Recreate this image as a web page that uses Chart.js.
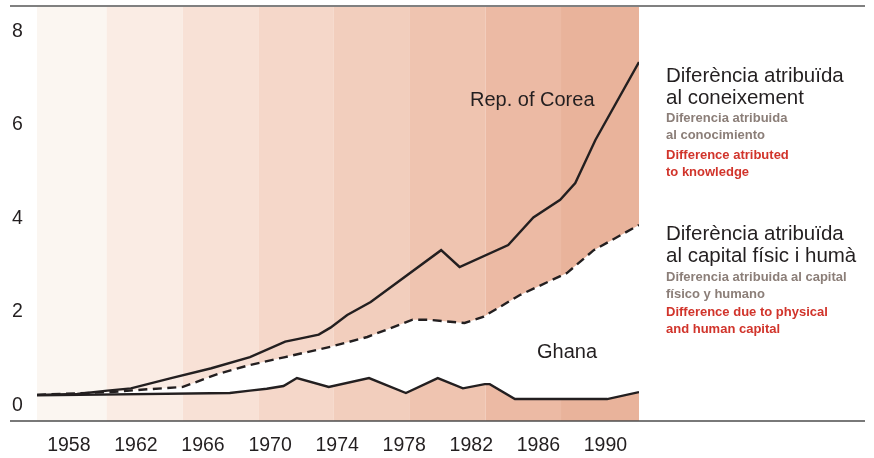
<!DOCTYPE html>
<html>
<head>
<meta charset="utf-8">
<script src="https://cdn.jsdelivr.net/npm/chart.js@4"></script>
<style>
  body { margin:0; background:#fff; font-family:"Liberation Sans", Arial, sans-serif; color:#231f20; }
  #wrap { position:relative; width:874px; height:458px; }
  .lbl { position:absolute; white-space:nowrap; }
  .big { font-size:20.5px; line-height:21.5px; color:#231f20; }
  .es  { font-size:13px; line-height:16.5px; font-weight:bold; color:#8b7e78; }
  .en  { font-size:13px; line-height:16.5px; font-weight:bold; color:#d1342b; }
  .ser { font-size:20px; line-height:22px; color:#231f20; }
</style>
</head>
<body>
<div id="wrap">
  <canvas id="c"></canvas>

  <div class="lbl ser" style="left:470px;top:88px">Rep. of Corea</div>
  <div class="lbl ser" style="left:537px;top:340px">Ghana</div>

  <div class="lbl big" style="left:666px;top:64px">Diferència atribuïda<br>al coneixement</div>
  <div class="lbl es"  style="left:666px;top:110px">Diferencia atribuida<br>al conocimiento</div>
  <div class="lbl en"  style="left:666px;top:147px">Difference atributed<br>to knowledge</div>

  <div class="lbl big" style="left:666px;top:222px">Diferència atribuïda<br>al capital físic i humà</div>
  <div class="lbl es"  style="left:666px;top:269px">Diferencia atribuida al capital<br>físico y humano</div>
  <div class="lbl en"  style="left:666px;top:304px">Difference due to physical<br>and human capital</div>
</div>

<script>
// ── Data ──────────────────────────────────────────────────────────────────
const xTicks = [1958,1962,1966,1970,1974,1978,1982,1986,1990];
const yTicks = [0,2,4,6,8];

const bandEdges  = [1956.1,1960.25,1964.8,1969.3,1973.8,1978.3,1982.85,1987.35,1992];
const bandColors = ['#fbf6f1','#faece4','#f8e1d6','#f5d7c9','#f2cebd','#efc4b0','#ecbaa4','#e9b39b'];

const koreaYears = [1956.1,1958.5,1960.3,1961.7,1964.1,1966.5,1968.8,1970.9,1971.7,1972.9,1973.6,1974.6,1976.0,1980.2,1981.3,1984.2,1985.7,1987.3,1988.2,1989.4,1992];
const koreaVals  = [0.22,0.24,0.31,0.36,0.58,0.79,1.03,1.36,1.42,1.51,1.66,1.93,2.21,3.32,2.96,3.43,4.02,4.40,4.76,5.68,7.35];

const capYears = [1956.1,1960.5,1962.3,1964.8,1966.9,1968.8,1970.9,1973.6,1975.8,1978.5,1979.4,1981.6,1982.7,1984.9,1987.7,1989.3,1992];
const capVals  = [0.22,0.28,0.33,0.39,0.67,0.86,1.03,1.25,1.46,1.83,1.83,1.76,1.89,2.36,2.83,3.32,3.86];

const ghanaYears = [1956.1,1967.6,1968.8,1969.8,1970.8,1971.6,1973.5,1975.9,1978.1,1980.0,1981.5,1982.8,1983.1,1984.6,1990.1,1992];
const ghanaVals  = [0.21,0.26,0.31,0.35,0.41,0.58,0.39,0.58,0.26,0.58,0.36,0.45,0.45,0.13,0.13,0.28];

const pts = (xs, ys) => xs.map((x,i)=>({x, y:ys[i]}));

const INK = '#231f20';
const FONT = '"Liberation Sans", Arial, sans-serif';

// ── Plugins: colour bands + rules ─────────────────────────────────────────
const bands = {
  id:'bands',
  beforeDraw(chart) {
    const {ctx, chartArea:a, scales:{x}} = chart;
    ctx.save();
    bandColors.forEach((col,i)=>{
      const l = x.getPixelForValue(bandEdges[i]), r = x.getPixelForValue(bandEdges[i+1]);
      ctx.fillStyle = col;
      ctx.fillRect(l, a.top, r-l, a.bottom-a.top);
    });
    ctx.restore();
  },
  afterDraw(chart) {
    const {ctx, chartArea:a, width} = chart;
    ctx.save();
    ctx.strokeStyle = '#808080'; ctx.lineWidth = 2;
    ctx.beginPath(); ctx.moveTo(10, a.top-1); ctx.lineTo(width-9, a.top-1); ctx.stroke();
    ctx.strokeStyle = '#4d4d4d'; ctx.lineWidth = 1.5;
    ctx.beginPath(); ctx.moveTo(10, a.bottom); ctx.lineTo(width-9, a.bottom); ctx.stroke();
    ctx.restore();
  }
};

// ── Chart ─────────────────────────────────────────────────────────────────
const lineDs = (data, extra={}) => ({
  data, borderColor:INK, borderWidth:2.4, pointRadius:0, tension:0, fill:false, ...extra
});

const chart = new Chart(document.getElementById('c'), {
  type:'line',
  data:{ datasets:[
    lineDs(pts(koreaYears, koreaVals)),
    lineDs(pts(capYears, capVals), {borderDash:[9,5.5], fill:{target:2}, backgroundColor:'#ffffff'}),
    lineDs(pts(ghanaYears, ghanaVals))
  ]},
  options:{
    responsive:true, maintainAspectRatio:false, animation:false,
    layout:{ padding:{left:12, top:7, right:235, bottom:0} },
    plugins:{ legend:{display:false}, tooltip:{enabled:false}, filler:{drawTime:'beforeDatasetsDraw'} },
    scales:{
      x:{ type:'linear', min:1956.1, max:1992,
          grid:{display:false, drawTicks:false}, border:{display:false},
          afterBuildTicks: s => { s.ticks = xTicks.map(v=>({value:v})); },
          afterFit: s => { s.height = 37; },
          ticks:{ color:INK, padding:13, maxRotation:0, autoSkip:false,
                  font:{family:FONT, size:19.5}, callback:v=>String(v) } },
      y:{ min:-0.34, max:8.53,
          grid:{display:false, drawTicks:false}, border:{display:false},
          afterBuildTicks: s => { s.ticks = yTicks.map(v=>({value:v})); },
          afterFit: s => { s.width = 25; s.paddingTop = 0; s.paddingBottom = 0; },
          ticks:{ color:INK, crossAlign:'far', padding:0,
                  font:{family:FONT, size:19.5}, callback:v=>String(v) } }
    }
  },
  plugins:[bands]
});
</script>
</body>
</html>
